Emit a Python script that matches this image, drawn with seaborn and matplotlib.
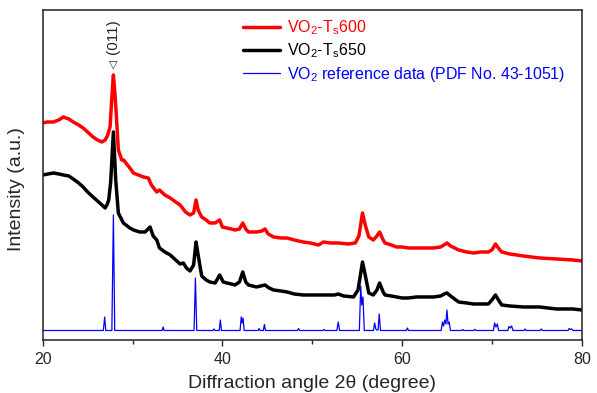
import matplotlib
matplotlib.use("Agg")
import matplotlib.pyplot as plt
from matplotlib.ticker import MultipleLocator
import pandas as pd
import seaborn as sns

# XRD patterns (2theta in degree, intensity in a.u.)
red_2theta = [20.0, 20.5, 21.2, 21.8, 22.3, 22.9, 23.4, 24.0, 24.5, 25.0, 25.6, 26.1,
              26.6, 26.95, 27.2, 27.5, 27.68, 27.87, 28.05, 28.16, 28.42, 28.8, 29.0,
              29.7, 30.1, 30.65, 31.2, 31.76, 32.1, 32.7, 33.0, 33.6, 34.2, 34.8, 35.3,
              35.9, 36.4, 36.8, 37.07, 37.3, 37.7, 38.2, 38.6, 39.2, 39.7, 40.0, 40.5,
              41.0, 41.4, 41.9, 42.27, 42.6, 42.9, 43.8, 44.4, 44.75, 45.1, 45.7, 46.5,
              47.2, 48.0, 49.0, 49.8, 50.7, 51.25, 52.0, 52.9, 54.0, 54.8, 55.2, 55.6,
              55.9, 56.3, 56.8, 57.2, 57.5, 57.9, 58.1, 58.8, 59.4, 60.0, 60.7, 61.6,
              62.5, 63.5, 64.3, 65.0, 65.4, 66.3, 67.2, 67.95, 68.8, 69.6, 70.0, 70.4,
              70.8, 71.1, 72.0, 73.5, 75.3, 77.2, 79.0, 80.0]
red_int = [217, 218, 218, 220, 223, 221, 218, 215, 212, 208, 203, 200,
           198, 200, 204, 213, 240, 265, 245, 230, 190, 180, 180,
           172, 167, 165, 163, 162, 155, 148, 150, 145, 142, 138, 135,
           128, 125, 127, 140, 130, 123, 120, 117, 117, 120, 113, 112,
           111, 110, 111, 117, 111, 108, 108, 109, 111, 106, 103, 102,
           102, 100, 98, 97, 95, 98, 97, 97, 96, 97, 104, 127,
           115, 103, 100, 104, 108, 100, 97, 95, 93, 93, 92, 92,
           92, 92, 93, 97, 94, 90, 88, 87, 88, 88, 90, 96,
           91, 88, 86, 84, 82, 81, 80, 79]

black_2theta = [20.0, 20.6, 21.2, 21.8, 22.3, 22.9, 23.4, 24.0, 24.5, 25.0, 25.6, 26.1,
                26.6, 26.95, 27.2, 27.35, 27.57, 27.87, 28.13, 28.42, 28.98, 29.7, 30.1,
                30.8, 31.4, 31.95, 32.3, 32.7, 33.0, 33.6, 34.2, 34.8, 35.3, 35.66, 36.0,
                36.4, 36.8, 37.07, 37.3, 37.7, 38.2, 38.6, 39.2, 39.7, 40.1, 40.5, 41.0,
                41.4, 41.9, 42.27, 42.6, 42.9, 43.8, 44.75, 45.2, 45.7, 46.5, 47.2, 48.0,
                49.0, 49.8, 51.25, 52.5, 52.9, 53.5, 54.6, 55.1, 55.6, 55.9, 56.3, 56.8,
                57.2, 57.5, 57.9, 58.1, 58.8, 59.4, 60.0, 60.7, 61.6, 62.5, 63.5, 64.3,
                64.7, 65.0, 65.4, 66.3, 67.2, 67.95, 69.0, 69.6, 70.0, 70.4, 70.8, 71.1,
                72.0, 73.5, 75.3, 77.2, 79.0, 80.0]
black_int = [165, 166, 167, 166, 165, 164, 161, 157, 153, 148, 143, 139,
             135, 132, 136, 140, 158, 208, 160, 127, 117, 112, 110,
             108, 108, 113, 104, 100, 92, 88, 85, 80, 76, 77, 72,
             69, 75, 98, 85, 64, 60, 58, 57, 65, 58, 57, 56,
             55, 58, 68, 58, 55, 53, 55, 52, 50, 49, 48, 46,
             45, 45, 45, 45, 46, 44, 43, 50, 78, 65, 47, 45,
             50, 57, 48, 45, 44, 43, 42, 42, 43, 43, 43, 44,
             46, 47, 44, 38, 37, 36, 36, 36, 40, 45, 39, 35,
             34, 33, 33, 31, 31, 30]

ref_2theta = [20.0, 26.75, 26.9, 27.02, 27.7, 27.87, 28.02, 33.3, 33.41, 33.52,
              36.85, 37.0, 37.15, 38.95, 39.07, 39.18, 39.65, 39.78, 39.9,
              41.97, 42.1, 42.2, 42.3, 42.43, 43.98, 44.09, 44.2, 44.56, 44.68, 44.8,
              48.36, 48.48, 48.6, 51.2, 51.33, 51.45, 52.75, 52.9, 53.05,
              55.25, 55.4, 55.52, 55.65, 55.8, 56.82, 56.95, 57.08, 57.2, 57.33, 57.46, 57.6,
              60.48, 60.6, 60.72, 64.35, 64.5, 64.62, 64.75, 64.88, 65.0, 65.12, 65.25, 65.38,
              66.65, 66.76, 66.88, 67.98, 68.1, 68.22, 70.17, 70.3, 70.45, 70.6, 70.75,
              71.78, 71.9, 72.05, 72.2, 72.35, 73.58, 73.7, 73.82, 75.38, 75.5, 75.62,
              78.48, 78.6, 78.75, 78.9, 79.05, 80.0]
ref_int = [9.5, 9.5, 23, 9.5, 9.5, 125, 9.5, 9.5, 13, 9.5,
           9.5, 62, 9.5, 9.5, 11, 9.5, 9.5, 20, 9.5,
           9.5, 23, 17, 22, 9.5, 9.5, 11.5, 9.5, 9.5, 15.5, 9.5,
           9.5, 11.5, 9.5, 9.5, 10.5, 9.5, 9.5, 18, 9.5,
           9.5, 54, 35, 43, 9.5, 9.5, 17, 11, 10, 10, 26, 9.5,
           9.5, 12, 9.5, 9.5, 18, 14, 20, 16, 30, 16, 18, 9.5,
           9.5, 10.5, 9.5, 9.5, 10.7, 9.5, 9.5, 17, 13, 16, 9.5,
           9.5, 13.5, 12, 14, 9.5, 9.5, 11, 9.5, 9.5, 11, 9.5,
           9.5, 11.5, 10.5, 11, 9.5, 9.5]

labels = [r"VO$_\mathregular{2}$-T$_\mathregular{s}$600",
          r"VO$_\mathregular{2}$-T$_\mathregular{s}$650",
          r"VO$_\mathregular{2}$ reference data (PDF No. 43-1051)"]

sns.set_style("ticks")
plt.rcParams["font.family"] = ["Liberation Sans", "DejaVu Sans"]
plt.rcParams["mathtext.fontset"] = "custom"
plt.rcParams["mathtext.rm"] = "Liberation Sans"

fig, ax = plt.subplots(figsize=(5.97, 3.93), dpi=100)
fig.subplots_adjust(left=0.0715, right=0.9744, bottom=0.1349, top=0.9746)

ref = pd.DataFrame({"x": ref_2theta, "y": ref_int})
blk = pd.DataFrame({"x": black_2theta, "y": black_int})
red = pd.DataFrame({"x": red_2theta, "y": red_int})

sns.lineplot(data=ref, x="x", y="y", color="#0000ff", lw=0.9, ax=ax, sort=False)
sns.lineplot(data=blk, x="x", y="y", color="black", lw=2.5, ax=ax, sort=False)
sns.lineplot(data=red, x="x", y="y", color="#ff0000", lw=2.5, ax=ax, sort=False)

lines = ax.get_lines()
handles = [lines[2], lines[1], lines[0]]
leg = ax.legend(handles, labels, loc="upper left", bbox_to_anchor=(0.372, 0.975),
                frameon=False, fontsize=11.5, handlelength=2.3, handletextpad=0.45,
                labelspacing=0.28, borderpad=0, borderaxespad=0)
for txt, c in zip(leg.get_texts(), ["#ff0000", "black", "#0000ff"]):
    txt.set_color(c)

# (011) peak marker
ax.text(27.87, 276, "\u25bd", ha="center", va="center", fontsize=8,
        family=["DejaVu Sans"])
ax.text(27.87, 303, "(011)", ha="center", va="center", rotation=90, fontsize=11)

ax.set_xlim(20, 80)
ax.set_ylim(0, 330)
ax.xaxis.set_major_locator(MultipleLocator(20))
ax.xaxis.set_minor_locator(MultipleLocator(10))
ax.set_yticks([])
ax.tick_params(axis="x", which="major", length=4.5, width=1, labelsize=11.5, pad=4)
ax.tick_params(axis="x", which="minor", length=3, width=1)
for s in ax.spines.values():
    s.set_linewidth(1.1)
    s.set_color("#222222")

ax.set_xlabel("Diffraction angle 2\u03b8 (degree)", fontsize=14)
ax.set_ylabel("Intensity (a.u.)", fontsize=14)
ax.xaxis.set_label_coords(0.5, -0.106)
ax.yaxis.set_label_coords(-0.033, 0.458)

fig.savefig("out.png", dpi=100)
